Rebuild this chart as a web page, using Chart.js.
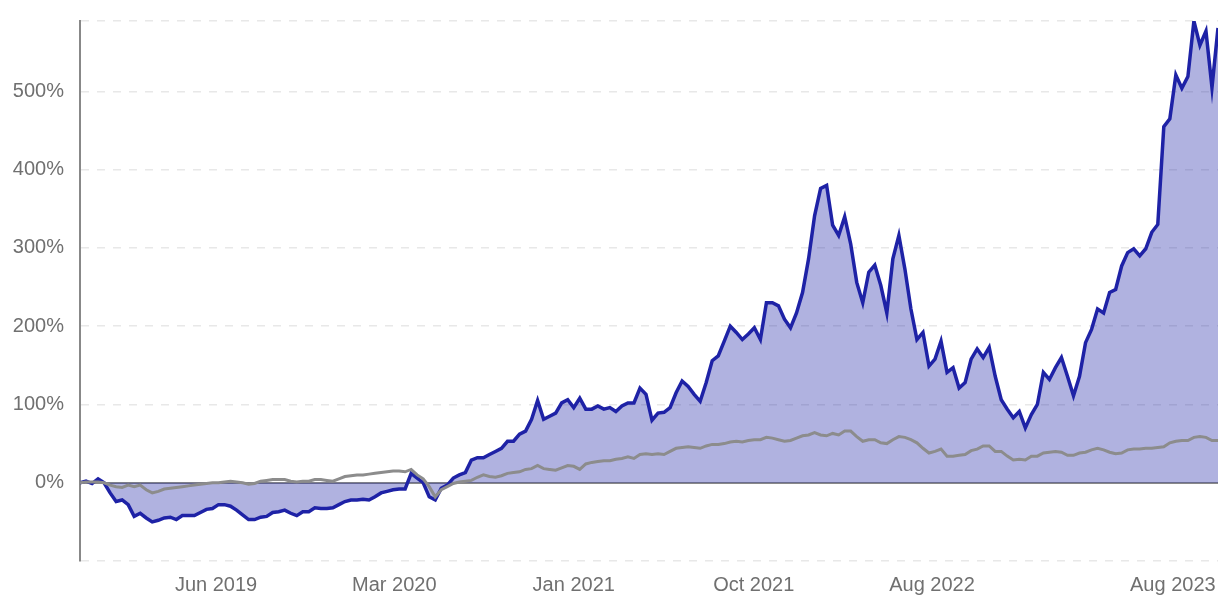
<!DOCTYPE html>
<html>
<head>
<meta charset="utf-8">
<script src="https://cdn.jsdelivr.net/npm/chart.js@4.4.0/dist/chart.umd.min.js"></script>
<style>
html, body { margin: 0; padding: 0; background: #fff; }
#wrap { width: 1218px; height: 600px; }
</style>
</head>
<body>
<div id="wrap"><canvas id="myChart"></canvas></div>
<script>
// cumulative return in %, one value per sample (evenly spaced in time)
const fundReturn = [
  0, 2, -1, 5, 0, -13, -24, -22, -28, -43,
  -39, -45, -50, -48, -45, -44, -47, -42, -42, -42,
  -38, -34, -33, -28, -28, -30, -35, -41, -47, -47,
  -44, -43, -38, -37, -35, -39, -42, -37, -37, -32,
  -33, -33, -32, -28, -24, -22, -22, -21, -22, -18,
  -13, -11, -9, -8, -8, 12, 6, 0, -18, -22,
  -7, -3, 6, 10, 13, 29, 32, 32, 36, 40,
  44, 53, 53, 62, 66, 81, 105, 81, 85, 89,
  102, 106, 96, 108, 94, 94, 98, 94, 96, 91,
  98, 102, 102, 121, 113, 80, 89, 90, 96, 115,
  130, 123, 113, 104, 128, 156, 162, 181, 200, 192,
  183, 190, 198, 183, 230, 230, 226, 209, 198, 217,
  243, 286, 341, 376, 380, 329, 316, 340, 305, 256,
  230, 269, 278, 252, 217, 286, 316, 273, 222, 183,
  192, 149, 158, 181, 141, 147, 121, 128, 158, 171,
  160, 173, 136, 106, 94, 83, 91, 70, 87, 100,
  141, 132, 147, 160, 136, 111, 136, 179, 196, 222,
  217, 243, 247, 277, 294, 299, 290, 299, 320, 330,
  455, 465, 521, 504, 519, 590, 559, 577, 505, 581
];
const benchReturn = [
  0, 1, 1, 1, 0, -3, -5, -6, -3, -5,
  -3, -9, -13, -11, -8, -7, -6, -5, -4, -3,
  -2, -1, 0, 0, 1, 2, 1, 0, -2, -1,
  2, 3, 4, 4, 4, 2, 1, 2, 2, 4,
  4, 3, 2, 5, 8, 9, 10, 10, 11, 12,
  13, 14, 15, 15, 14, 17, 10, 5, -5, -18,
  -9, -5, -1, 1, 2, 3, 7, 10, 8, 7,
  9, 12, 13, 14, 17, 18, 22, 18, 17, 16,
  19, 22, 21, 17, 24, 26, 27, 28, 28, 30,
  31, 33, 31, 36, 37, 36, 37, 36, 40, 44,
  45, 46, 45, 44, 47, 49, 49, 50, 52, 53,
  52, 54, 55, 55, 58, 57, 55, 53, 54, 57,
  60, 61, 64, 61, 60, 63, 61, 66, 66, 59,
  53, 55, 55, 51, 50, 55, 59, 58, 55, 51,
  44, 38, 40, 43, 34, 34, 35, 36, 41, 43,
  47, 47, 40, 40, 34, 29, 30, 29, 34, 34,
  38, 39, 40, 39, 35, 35, 38, 39, 42, 44,
  42, 39, 37, 38, 42, 43, 43, 44, 44, 45,
  46, 51, 53, 54, 54, 58, 59, 58, 54, 54
];
// date labels and where they sit, in sample index units
const tickIndex = [22.6, 52.2, 82, 111.9, 141.5, 181.5];
const tickLabels = ['Jun 2019', 'Mar 2020', 'Jan 2021', 'Oct 2021', 'Aug 2022', 'Aug 2023'];
const yTickValues = [-100, 0, 100, 200, 300, 400, 500];
const yMax = Math.max(...fundReturn);

const toPoints = arr => arr.map((v, i) => ({ x: i, y: v }));
const font = { family: "'Liberation Sans', Arial, Helvetica, sans-serif", size: 20 };
const isZero = c => c.tick && c.tick.value === 0;

const config = {
  type: 'line',
  data: {
    datasets: [
      {
        label: 'benchmark',
        data: toPoints(benchReturn),
        borderColor: '#8c8c8c',
        borderWidth: 3,
        pointRadius: 0,
        fill: false,
        tension: 0
      },
      {
        label: 'fund',
        data: toPoints(fundReturn),
        borderColor: '#1e22a6',
        backgroundColor: 'rgba(30, 34, 166, 0.35)',
        borderWidth: 3.5,
        pointRadius: 0,
        fill: 'origin',
        tension: 0
      }
    ]
  },
  options: {
    responsive: true,
    maintainAspectRatio: false,
    animation: false,
    layout: { padding: { left: 11, top: 21, right: 0, bottom: 0 } },
    plugins: { legend: { display: false }, tooltip: { enabled: false } },
    scales: {
      x: {
        type: 'linear',
        min: 0,
        max: fundReturn.length - 1,
        grid: { display: false, drawTicks: false },
        border: { display: false },
        afterBuildTicks: axis => { axis.ticks = tickIndex.map(v => ({ value: v })); },
        afterFit: axis => {
          axis.height = 39;
          axis.paddingLeft = 0;
          axis.paddingRight = 0;
        },
        ticks: {
          autoSkip: false,
          maxRotation: 0,
          padding: 12,
          color: '#707070',
          font: font,
          callback: v => {
            const k = tickIndex.indexOf(v);
            return k >= 0 ? tickLabels[k] : '';
          }
        }
      },
      y: {
        type: 'linear',
        min: -100,
        max: yMax,
        afterBuildTicks: axis => { axis.ticks = yTickValues.concat([yMax]).map(v => ({ value: v })); },
        afterFit: axis => {
          axis.width = 69;
          axis.paddingTop = 0;
          axis.paddingBottom = 0;
        },
        grid: {
          drawTicks: false,
          color: c => isZero(c) ? '#888888' : '#e8e8e8',
          lineWidth: c => isZero(c) ? 2 : 1.5
        },
        border: {
          display: true,
          color: '#888888',
          width: 2,
          dash: c => (c.tick && c.tick.value !== 0) ? [8, 8] : []
        },
        ticks: {
          autoSkip: false,
          padding: 16,
          color: '#707070',
          font: font,
          callback: v => (v >= 0 && v < yMax) ? v + '%' : ''
        }
      }
    }
  }
};

const myChart = new Chart(document.getElementById('myChart').getContext('2d'), config);
</script>
</body>
</html>
